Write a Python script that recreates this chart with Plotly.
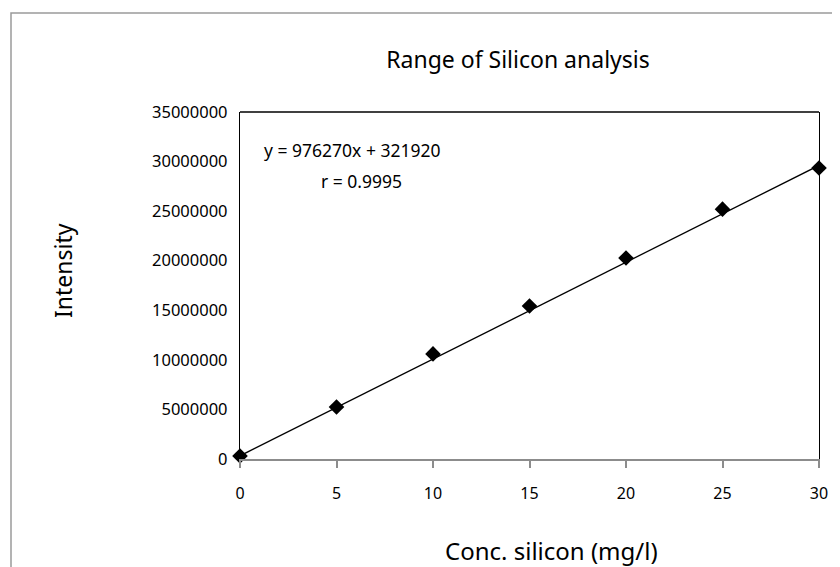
import plotly.graph_objects as go

# Data
conc = [0, 5, 10, 15, 20, 25, 30]
intensity = [300000, 5250000, 10600000, 15430000, 20270000, 25200000, 29350000]
slope = 976270
intercept = 321920
r_value = 0.9995
x_ticks = [0, 5, 10, 15, 20, 25, 30]
y_ticks = [0, 5000000, 10000000, 15000000, 20000000, 25000000, 30000000, 35000000]

fit_x = [conc[0], conc[-1]]
fit_y = [slope * v + intercept for v in fit_x]

FONT = "Noto Sans"
L, R, T, B = 232, 811, 104, 451
PW, PH = R - L, B - T


def px(x):
    return (x - L) / PW


def py(y):
    return (B - y) / PH


fig = go.Figure()
fig.add_trace(go.Scatter(x=fit_x, y=fit_y, mode="lines",
                         line=dict(color="black", width=1.3),
                         hoverinfo="skip", showlegend=False, cliponaxis=False))
fig.add_trace(go.Scatter(x=conc, y=intensity, mode="markers",
                         marker=dict(symbol="diamond", size=12, color="black"),
                         showlegend=False, cliponaxis=False))

fig.update_layout(
    width=840, height=567,
    margin=dict(l=L, r=840 - R, t=T, b=567 - B),
    paper_bgcolor="white", plot_bgcolor="white",
    font=dict(family=FONT, color="black", size=16),
    title=dict(text="Range of Silicon analysis", x=510/840, xanchor="center",
               y=1-52/567, yanchor="middle",
               font=dict(family=FONT, size=23, color="black")),
    xaxis=dict(range=[0, 30], tickvals=x_ticks, ticktext=[str(v) for v in x_ticks],
               showgrid=False, zeroline=False, showline=True, linecolor="#8c8c8c",
               linewidth=2, ticks="outside", ticklen=7, tickcolor="#8c8c8c",
               tickwidth=1.5, ticklabelstandoff=12, tickfont=dict(size=16)),
    yaxis=dict(range=[0, 35000000], tickvals=y_ticks, ticktext=[str(v) for v in y_ticks],
               showgrid=False, zeroline=False, showline=True, linecolor="black",
               linewidth=1.3, mirror=True, ticks="", ticklabelstandoff=8,
               tickfont=dict(size=16.5)),
    showlegend=False,
)

# top border of plot area
fig.add_shape(type="line", xref="paper", yref="paper", x0=0, x1=1, y0=1, y1=1,
              line=dict(color="black", width=1.3))
# outer chart border
fig.add_shape(type="rect", xref="paper", yref="paper",
              x0=px(3), x1=px(850), y0=py(580), y1=py(5),
              line=dict(color="#9a9a9a", width=1.5), layer="below")

fig.add_annotation(text="Intensity", xref="paper", yref="paper",
                   x=px(55), y=py(263), textangle=-90, showarrow=False,
                   xanchor="center", yanchor="middle", font=dict(size=23))
fig.add_annotation(text="Conc. silicon (mg/l)", xref="paper", yref="paper",
                   x=px(543), y=py(542), showarrow=False,
                   xanchor="center", yanchor="middle", font=dict(size=24))
fig.add_annotation(text=f"y = {slope}x + {intercept}", xref="paper", yref="paper",
                   x=px(344), y=py(142), showarrow=False,
                   xanchor="center", yanchor="middle", font=dict(size=17.5))
fig.add_annotation(text=f"r = {r_value}", xref="paper", yref="paper",
                   x=px(353), y=py(173), showarrow=False,
                   xanchor="center", yanchor="middle", font=dict(size=17.5))

fig.write_html("out.html")
